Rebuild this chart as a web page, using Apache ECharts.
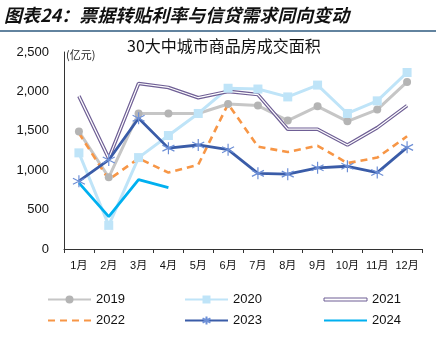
<!DOCTYPE html>
<html>
<head>
<meta charset="utf-8">
<script src="https://cdn.jsdelivr.net/npm/echarts@6/dist/echarts.min.js"></script>
<style>
html,body{margin:0;padding:0;background:#fff;}
#chart{width:443px;height:343px;}
</style>
</head>
<body>
<div id="chart"></div>
<script>
// Monthly transaction area, 30 large and mid-sized cities (亿元)
const months = ['1月','2月','3月','4月','5月','6月','7月','8月','9月','10月','11月','12月'];
const y2019 = [1490, 910, 1720, 1720, 1720, 1840, 1820, 1630, 1810, 1620, 1770, 2120];
const y2020 = [1220, 300, 1160, 1440, 1720, 2040, 2030, 1930, 2080, 1720, 1880, 2240];
const y2021 = [1940, 1150, 2100, 2050, 1920, 2000, 1960, 1520, 1520, 1320, 1540, 1820];
const y2022 = [1470, 880, 1150, 970, 1070, 1840, 1300, 1230, 1310, 1090, 1160, 1430];
const y2023 = [860, 1130, 1660, 1280, 1320, 1260, 960, 950, 1030, 1050, 970, 1290];
const y2024 = [840, 410, 880, 780];
const yTicks = [0, 500, 1000, 1500, 2000, 2500];

const FONT = '"Liberation Sans", Arial, "Noto Sans CJK SC", sans-serif';
const CJK = '"Noto Sans CJK SC", sans-serif';
const asterisk = 'path://M0,-10L0,10M-8.66,-5L8.66,5M-8.66,5L8.66,-5';

const chart = echarts.init(document.getElementById('chart'), null, {renderer: 'canvas'});

// one vertical legend per column, two rows each
const legendCol = (left, data) => ({
  left: left,
  top: 293,
  padding: 0,
  orient: 'vertical',
  itemWidth: 43,
  itemHeight: 10,
  itemGap: 8,
  textStyle: {fontSize: 13, color: '#111', fontFamily: FONT},
  selectedMode: false,
  data: data
});

chart.setOption({
  animation: false,
  backgroundColor: '#fff',
  grid: {left: 64, right: 21, top: 52, bottom: 94, containLabel: false},
  graphic: [
    {type: 'text', left: 4, top: 6, style: {text: '图表24：票据转贴利率与信贷需求同向变动', font: 'italic bold 18px ' + CJK, fill: '#111'}},
    {type: 'line', shape: {x1: 0, y1: 31, x2: 436, y2: 31}, style: {stroke: '#2e5a7f', lineWidth: 1.5}},
    {type: 'text', left: 127, top: 38, style: {text: '30大中城市商品房成交面积', font: '16px ' + CJK, fill: '#111'}},
    {type: 'text', left: 66, top: 49, style: {text: '(亿元)', font: '11px ' + CJK, fill: '#222'}}
  ],
  legend: [
    legendCol(47, [{name: '2019'}, {name: '2022', itemStyle: {opacity: 0}}]),
    legendCol(184, [{name: '2020'}, {name: '2023'}]),
    legendCol(323, [
      {name: '2021', icon: 'path://M0,0H43V3H0Z', itemStyle: {color: '#fff', borderColor: '#6f5f95', borderWidth: 1}},
      {name: '2024', itemStyle: {opacity: 0}}
    ])
  ],
  xAxis: {
    type: 'category',
    data: months,
    boundaryGap: true,
    axisLine: {lineStyle: {color: '#333', width: 1}},
    axisTick: {show: true, length: 4, lineStyle: {color: '#333'}},
    axisLabel: {fontSize: 11, color: '#111', margin: 11, interval: 0, fontFamily: FONT}
  },
  yAxis: {
    type: 'value',
    min: 0, max: 2500, interval: 500,
    axisLine: {show: true, lineStyle: {color: '#333', width: 1}},
    axisTick: {show: false},
    splitLine: {show: false},
    axisLabel: {
      fontSize: 13, color: '#111', margin: 15, fontFamily: FONT,
      formatter: v => yTicks.includes(v) ? v.toLocaleString('en-US') : ''
    }
  },
  series: [
    {name: '2019', type: 'line', data: y2019, symbol: 'circle', symbolSize: 8,
      lineStyle: {color: '#c6c6c6', width: 3}, itemStyle: {color: '#b4b4b4'}},
    {name: '2020', type: 'line', data: y2020, symbol: 'rect', symbolSize: 9,
      lineStyle: {color: '#bfe4f8', width: 3}, itemStyle: {color: '#bfe4f8'}},
    {name: '2021', type: 'line', data: y2021, symbol: 'none',
      lineStyle: {color: '#6f5f95', width: 3.6}, itemStyle: {color: '#6f5f95'}},
    {name: '2021 inner', type: 'line', data: y2021, symbol: 'none', silent: true,
      lineStyle: {color: '#ffffff', width: 1.2}, z: 3},
    {name: '2022', type: 'line', data: y2022, symbol: 'none',
      lineStyle: {color: '#f79646', width: 2.6, type: [7, 5]}, itemStyle: {color: '#f79646'}},
    {name: '2023', type: 'line', data: y2023, symbol: asterisk, symbolSize: 12,
      lineStyle: {color: '#3a5ca8', width: 2.8},
      itemStyle: {color: '#6d8fd6', borderColor: '#6d8fd6', borderWidth: 1.2}},
    {name: '2024', type: 'line', data: y2024, symbol: 'none',
      lineStyle: {color: '#00b0f0', width: 2.8}, itemStyle: {color: '#00b0f0'}}
  ]
});
</script>
</body>
</html>
